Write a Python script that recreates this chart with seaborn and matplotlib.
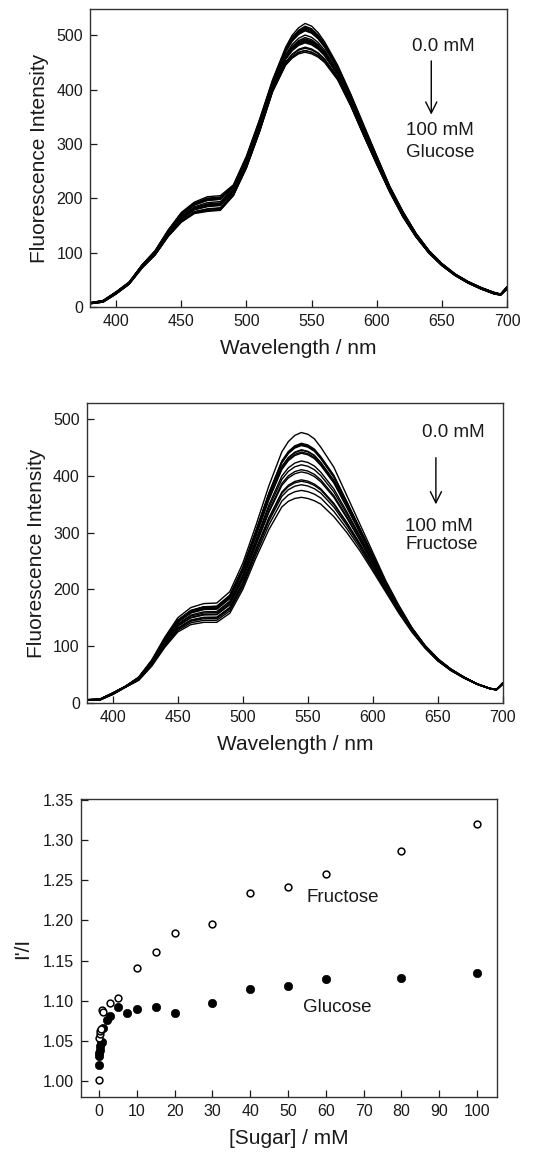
import numpy as np
import pandas as pd
import matplotlib
matplotlib.use("Agg")
import matplotlib.pyplot as plt
import seaborn as sns

# Spectra (top = 0 mM curve, bottom = 100 mM curve)
wavelength = [380, 390, 400, 410, 420, 430, 440, 450, 460, 470, 480, 490, 500, 510,
              520, 530, 535, 540, 545, 550, 555, 560, 570, 580, 590, 600, 610, 620,
              630, 640, 650, 660, 670, 680, 690, 695, 700]
glucose_top = [8, 12, 28, 46, 78, 104, 142, 174, 193, 203, 205, 225, 278, 345,
               418, 478, 500, 514, 522, 517, 505, 488, 445, 392, 335, 278, 222, 176,
               136, 104, 80, 61, 47, 36, 27, 24, 38]
glucose_bottom = [6, 9, 24, 42, 72, 96, 130, 156, 172, 176, 178, 205, 256, 322,
                  396, 445, 458, 466, 469, 466, 460, 450, 418, 370, 315, 262, 211, 166,
                  129, 99, 76, 58, 44, 33, 24, 22, 33]
fructose_top = [6, 7, 18, 30, 46, 76, 116, 150, 168, 175, 176, 196, 246, 312,
                382, 442, 460, 471, 476, 473, 465, 450, 415, 365, 315, 265, 215, 172,
                133, 102, 78, 60, 46, 34, 26, 24, 36]
fructose_bottom = [5, 5, 15, 28, 40, 65, 98, 125, 138, 142, 142, 158, 200, 255,
                   305, 345, 355, 360, 362, 360, 356, 350, 328, 300, 268, 232, 195, 158,
                   125, 97, 74, 57, 44, 33, 25, 23, 33]

# I'/I titration data
glucose_conc = [0, 0.05, 0.1, 0.2, 0.3, 0.5, 0.7, 1, 2, 3, 5, 7.5, 10, 15, 20,
                30, 40, 50, 60, 80, 100]
glucose_ratio = [1.020, 1.031, 1.035, 1.039, 1.043, 1.047, 1.049, 1.066, 1.076,
                 1.081, 1.092, 1.085, 1.090, 1.092, 1.085, 1.097, 1.114, 1.118,
                 1.127, 1.128, 1.134]
fructose_conc = [0, 0.1, 0.2, 0.3, 0.5, 0.7, 1, 3, 5, 10, 15, 20, 30, 40, 50,
                 60, 80, 100]
fructose_ratio = [1.001, 1.054, 1.058, 1.062, 1.065, 1.088, 1.086, 1.097, 1.103,
                  1.141, 1.160, 1.184, 1.195, 1.234, 1.241, 1.258, 1.286, 1.320]


def spectra_frame(top, bottom, conc, ratio):
    # each titration curve sits between the 0 mM and 100 mM spectra
    top = np.array(top, float)
    bottom = np.array(bottom, float)
    r = np.array(ratio, float)
    w = (r - r.min()) / (r.max() - r.min())
    frames = []
    for c, wi in zip(conc, w):
        frames.append(pd.DataFrame({"wl": wavelength,
                                    "I": top - wi * (top - bottom),
                                    "conc": c}))
    return pd.concat(frames, ignore_index=True)


sns.set_theme(style="ticks")
plt.rcParams["font.family"] = ["Liberation Sans", "DejaVu Sans"]
plt.rcParams["text.color"] = "#1a1a1a"
plt.rcParams["axes.labelcolor"] = "#1a1a1a"
plt.rcParams["xtick.color"] = "#1a1a1a"
plt.rcParams["ytick.color"] = "#1a1a1a"

LABEL_FS = 15
TICK_FS = 11.5
NOTE_FS = 13.5

fig = plt.figure(figsize=(5.39, 11.63), dpi=100)
ax1 = fig.add_axes([0.167, 0.736, 0.774, 0.256])
ax2 = fig.add_axes([0.161, 0.3955, 0.772, 0.258])
ax3 = fig.add_axes([0.150, 0.0568, 0.772, 0.256])


def style_axes(ax):
    for s in ax.spines.values():
        s.set_visible(True)
        s.set_linewidth(1.0)
        s.set_color("#333333")
    ax.tick_params(direction="in", length=5, width=0.9, labelsize=TICK_FS, pad=5,
                   top=False, right=False)


# Panel 1: glucose spectra
df_g = spectra_frame(glucose_top, glucose_bottom, glucose_conc, glucose_ratio)
sns.lineplot(data=df_g, x="wl", y="I", units="conc", estimator=None,
             color="black", lw=1.0, ax=ax1)
ax1.set_xlim(380, 700)
ax1.set_ylim(0, 548)
ax1.set_xticks(range(400, 701, 50))
ax1.set_yticks(range(0, 501, 100))
ax1.set_xlabel("Wavelength / nm", fontsize=LABEL_FS, labelpad=7)
ax1.set_ylabel("Fluorescence Intensity", fontsize=LABEL_FS, labelpad=5)
style_axes(ax1)
ax1.text(0.847, 0.876, "0.0 mM", transform=ax1.transAxes, ha="center", va="center", fontsize=NOTE_FS)
ax1.annotate("", xy=(0.818, 0.637), xytext=(0.818, 0.836), xycoords="axes fraction",
             arrowprops=dict(arrowstyle="->", color="black", lw=1.0, mutation_scale=20))
ax1.text(0.757, 0.594, "100 mM", transform=ax1.transAxes, ha="left", va="center", fontsize=NOTE_FS)
ax1.text(0.757, 0.520, "Glucose", transform=ax1.transAxes, ha="left", va="center", fontsize=NOTE_FS)

# Panel 2: fructose spectra
df_f = spectra_frame(fructose_top, fructose_bottom, fructose_conc, fructose_ratio)
sns.lineplot(data=df_f, x="wl", y="I", units="conc", estimator=None,
             color="black", lw=1.0, ax=ax2)
ax2.set_xlim(380, 700)
ax2.set_ylim(0, 528)
ax2.set_xticks(range(400, 701, 50))
ax2.set_yticks(range(0, 501, 100))
ax2.set_xlabel("Wavelength / nm", fontsize=LABEL_FS, labelpad=7)
ax2.set_ylabel("Fluorescence Intensity", fontsize=LABEL_FS, labelpad=5)
style_axes(ax2)
ax2.text(0.880, 0.900, "0.0 mM", transform=ax2.transAxes, ha="center", va="center", fontsize=NOTE_FS)
ax2.annotate("", xy=(0.839, 0.653), xytext=(0.839, 0.827), xycoords="axes fraction",
             arrowprops=dict(arrowstyle="->", color="black", lw=1.0, mutation_scale=20))
ax2.text(0.765, 0.587, "100 mM", transform=ax2.transAxes, ha="left", va="center", fontsize=NOTE_FS)
ax2.text(0.765, 0.527, "Fructose", transform=ax2.transAxes, ha="left", va="center", fontsize=NOTE_FS)

# Panel 3: I'/I vs sugar concentration
sns.scatterplot(x=glucose_conc, y=glucose_ratio, marker="o", s=36, color="black",
                edgecolor="black", linewidth=0.5, ax=ax3, zorder=3)
sns.scatterplot(x=fructose_conc, y=fructose_ratio, marker="o", s=24, facecolor="white",
                edgecolor="black", linewidth=1.1, ax=ax3, zorder=4)
ax3.set_xlim(-4.8, 105.3)
ax3.set_ylim(0.98, 1.351)
ax3.set_xticks(range(0, 101, 10))
yt = np.arange(1.00, 1.351, 0.05)
ax3.set_yticks(yt)
ax3.set_yticklabels([f"{v:.2f}" for v in yt])
ax3.set_xlabel("[Sugar] / mM", fontsize=LABEL_FS, labelpad=7)
ax3.set_ylabel("I'/I", fontsize=LABEL_FS, labelpad=8)
style_axes(ax3)
ax3.text(54.8, 1.229, "Fructose", ha="left", va="center", fontsize=NOTE_FS)
ax3.text(54.0, 1.091, "Glucose", ha="left", va="center", fontsize=NOTE_FS)

fig.savefig("out.png", dpi=100)
